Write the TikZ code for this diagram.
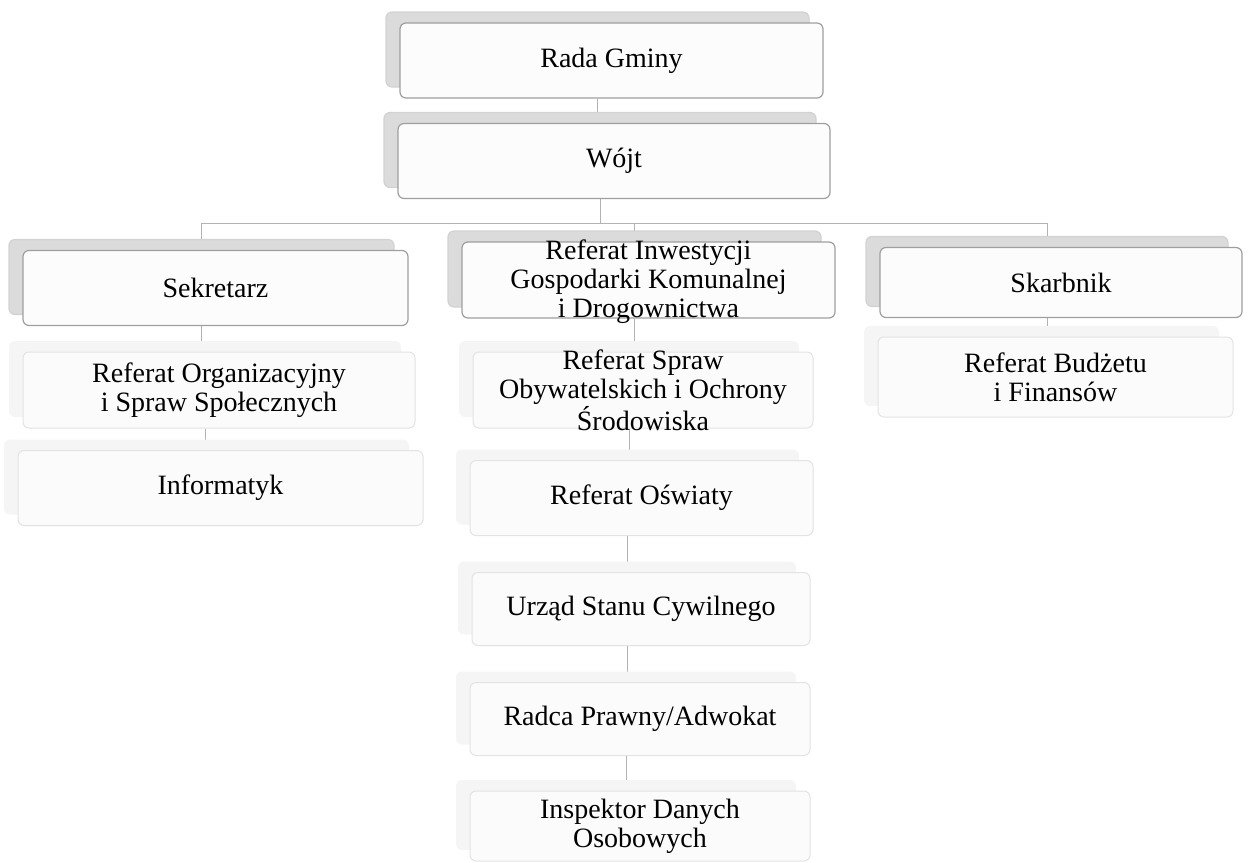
\documentclass[tikz,border=0pt]{standalone}
\usepackage{fontspec}
\setmainfont{Liberation Serif}
\usetikzlibrary{shadows}
\usetikzlibrary{backgrounds}

\begin{document}
\begin{tikzpicture}[x=0.5pt, y=-0.5pt,
		every node/.style={font=\fontsize{14}{14.5}\selectfont, align=center, inner sep=0pt},
		toplevel/.style={draw=gray!75, line width=0.6pt, rounded corners=3pt, fill=gray!2,
			copy shadow={shadow xshift=-7pt, shadow yshift=5.5pt, fill=gray!28, draw=gray!35}},
		sublevel/.style={draw=gray!22, line width=0.5pt, rounded corners=3pt, fill=gray!3,
			copy shadow={shadow xshift=-7pt, shadow yshift=5.5pt, fill=gray!8, draw=none}},
		link/.style={draw=gray!60, line width=0.5pt}]
		\useasboundingbox (0,0) rectangle (1250,863);
		%
		%Rada i Wojt
		\node[toplevel, minimum width=211.5pt, minimum height=37.5pt] (rada) at (611.5,60.5) {Rada Gminy};
		\node[toplevel, minimum width=216pt, minimum height=37.5pt] (wojt) at (614,161) {Wójt};
		%
		%Sekretarz
		\node[toplevel, minimum width=192.5pt, minimum height=37.5pt] (sek) at (215.5,288) {Sekretarz};
		\node[sublevel, minimum width=196pt, minimum height=38pt] (org) at (219,390) {Referat Organizacyjny\\i Spraw Społecznych};
		\node[sublevel, minimum width=202.5pt, minimum height=37.5pt] (info) at (220.5,488) {Informatyk};
		%
		%Referat Inwestycji i dalej
		\node[toplevel, minimum width=186.5pt, minimum height=38pt] (inw) at (648.5,280) {};
		\node (inwtxt) at ([yshift=-1pt]inw) {Referat Inwestycji\\Gospodarki Komunalnej\\i Drogownictwa};
		\node[sublevel, minimum width=170pt, minimum height=38pt] (spraw) at (643,390) {};
		\node (sprawtxt) at (spraw) {Referat Spraw\\Obywatelskich i Ochrony\\Środowiska};
		\node[sublevel, minimum width=171.5pt, minimum height=37.5pt] (oswiata) at (641.5,498) {Referat Oświaty};
		\node[sublevel, minimum width=169pt, minimum height=36.5pt] (usc) at (641,609) {Urząd Stanu Cywilnego};
		\node[sublevel, minimum width=170pt, minimum height=36.5pt] (radca) at (640,719) {Radca Prawny/Adwokat};
		\node[sublevel, minimum width=170pt, minimum height=35pt] (ido) at (640,826) {Inspektor Danych\\Osobowych};
		%
		%Skarbnik
		\node[toplevel, minimum width=181pt, minimum height=35pt] (skarb) at (1061,282.5) {Skarbnik};
		\node[sublevel, minimum width=177.5pt, minimum height=40pt] (budzet) at (1055.5,377) {Referat Budżetu\\i Finansów};
		%
		%linie
		\begin{scope}[on background layer]
			\path ([xshift=-7pt]wojt.south) ++(0,24) coordinate (bus);
			\draw[link] ([xshift=-7pt]wojt.south) -- (bus);
			\foreach \n in {sek,inw,skarb}
				\draw[link] (bus) -| ([xshift=-7pt]\n.north);
			\foreach \a/\b in {rada/wojt, sek/org, org/info, inw/spraw, spraw/oswiata, oswiata/usc, usc/radca, radca/ido, skarb/budzet}
				\draw[link] ([xshift=-7pt]\a.south) -- ([xshift=-7pt]\a.south |- \b.north);
		\end{scope}
	\end{tikzpicture}
\end{document}
